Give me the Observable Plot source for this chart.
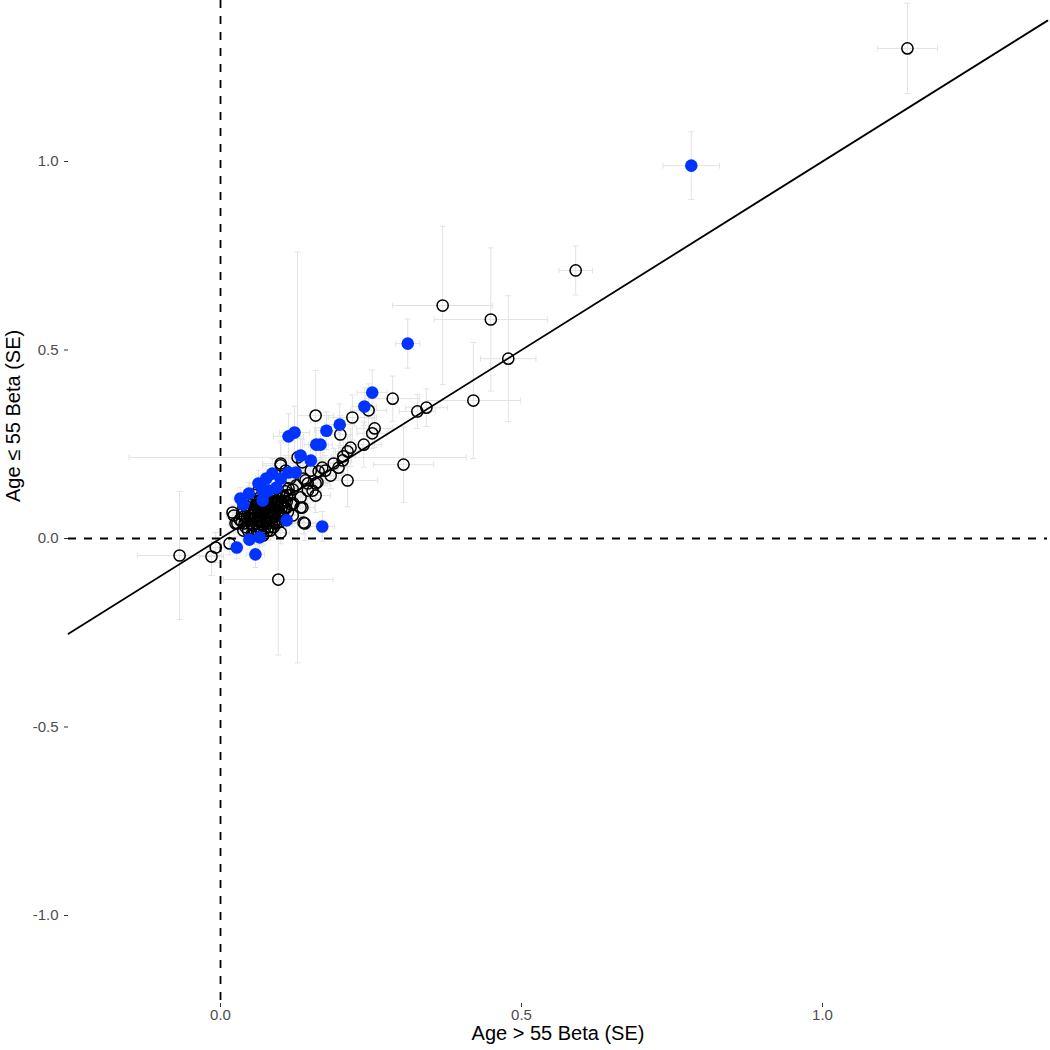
<!DOCTYPE html>
<html>
<head>
<meta charset="utf-8">
<script src="https://cdn.jsdelivr.net/npm/d3@7"></script>
<script src="https://cdn.jsdelivr.net/npm/@observablehq/plot@0.6"></script>
<style>
  html, body { margin: 0; padding: 0; background: #ffffff; }
  #chart { width: 1050px; height: 1050px; }
  #chart svg [aria-label$="tick label"] { font-size: 15px; }
</style>
</head>
<body>
<div id="chart"></div>
<script>
// ---- axis settings ----
const xDomain = [-0.2525, 1.3737];
const yDomain = [-1.2334, 1.4271];
const xTicks = [0.0, 0.5, 1.0];
const yTicks = [-1.0, -0.5, 0.0, 0.5, 1.0];
const xTitle = "Age > 55 Beta (SE)";
const yTitle = "Age \u2264 55 Beta (SE)";

// ---- non-significant (open circles): beta (>55), beta (<=55), SE x, SE y ----
const openX = [1.141, 0.590, 0.369, 0.449, 0.478, 0.420, 0.342, 0.327, 0.286, 0.304,
  0.246, 0.219, 0.158, 0.256, 0.252, 0.238, 0.216, 0.211, 0.204, 0.199,
  0.203, 0.188, 0.196, 0.211, 0.169, 0.163, 0.158, 0.145, 0.158, 0.136,
  0.128, 0.100, 0.138, 0.161, 0.136, 0.140, 0.096, -0.068, -0.015, -0.008,
  0.015, 0.025, 0.022, 0.020, 0.028, 0.038, 0.071, 0.083, 0.100, 0.138,
  0.133, 0.121, 0.113, 0.133, 0.145, 0.141, 0.100, 0.150, 0.153, 0.174,
  0.183, 0.108, 0.116, 0.126, 0.105, 0.120];
const openY = [1.300, 0.711, 0.618, 0.581, 0.477, 0.366, 0.347, 0.337, 0.371, 0.196,
  0.340, 0.321, 0.326, 0.292, 0.279, 0.249, 0.241, 0.231, 0.218, 0.276,
  0.207, 0.199, 0.188, 0.154, 0.188, 0.178, 0.146, 0.146, 0.114, 0.202,
  0.215, 0.194, 0.159, 0.149, 0.082, 0.040, -0.109, -0.045, -0.048, -0.024,
  -0.013, 0.040, 0.061, 0.069, 0.040, 0.021, 0.008, 0.021, 0.016, 0.042,
  0.082, 0.093, 0.133, 0.109, 0.127, 0.154, 0.199, 0.180, 0.127, 0.180,
  0.167, 0.180, 0.159, 0.141, 0.114, 0.061];
const openXse = [0.050, 0.028, 0.083, 0.094, 0.046, 0.078, 0.035, 0.030, 0.045, 0.050,
  0.030, 0.040, 0.030, 0.030, 0.025, 0.030, 0.020, 0.020, 0.020, 0.020,
  0.015, 0.020, 0.015, 0.050, 0.020, 0.015, 0.020, 0.020, 0.025, 0.030,
  0.280, 0.030, 0.020, 0.020, 0.020, 0.025, 0.091, 0.070, 0.020, 0.015,
  0.015, 0.012, 0.012, 0.010, 0.010, 0.010, 0.012, 0.012, 0.015, 0.020,
  0.015, 0.015, 0.015, 0.015, 0.020, 0.020, 0.030, 0.020, 0.015, 0.020,
  0.020, 0.020, 0.020, 0.015, 0.015, 0.015];
const openYse = [0.120, 0.065, 0.210, 0.190, 0.167, 0.154, 0.050, 0.045, 0.060, 0.100,
  0.070, 0.060, 0.120, 0.050, 0.040, 0.060, 0.050, 0.040, 0.045, 0.050,
  0.035, 0.040, 0.030, 0.070, 0.040, 0.030, 0.040, 0.040, 0.045, 0.060,
  0.545, 0.060, 0.040, 0.035, 0.040, 0.045, 0.200, 0.170, 0.050, 0.040,
  0.030, 0.025, 0.025, 0.020, 0.020, 0.020, 0.025, 0.025, 0.030, 0.030,
  0.030, 0.030, 0.035, 0.030, 0.035, 0.040, 0.060, 0.040, 0.030, 0.040,
  0.035, 0.040, 0.040, 0.035, 0.030, 0.030];

// dense cluster of non-significant estimates
const blobX = [0.035, 0.040, 0.042, 0.045, 0.048, 0.050, 0.052, 0.053, 0.055, 0.056,
  0.058, 0.060, 0.060, 0.062, 0.063, 0.064, 0.065, 0.066, 0.067, 0.068,
  0.069, 0.070, 0.071, 0.072, 0.073, 0.074, 0.075, 0.076, 0.077, 0.078,
  0.079, 0.080, 0.081, 0.082, 0.083, 0.084, 0.085, 0.086, 0.088, 0.089,
  0.090, 0.091, 0.092, 0.094, 0.095, 0.096, 0.098, 0.100, 0.102, 0.104,
  0.106, 0.108, 0.110, 0.112, 0.115, 0.118, 0.120, 0.050, 0.045, 0.038,
  0.057, 0.062, 0.070, 0.078, 0.088, 0.032, 0.047, 0.055, 0.093, 0.067,
  0.040, 0.043, 0.046, 0.049, 0.051, 0.054, 0.056, 0.059, 0.061, 0.063,
  0.066, 0.068, 0.070, 0.072, 0.074, 0.075, 0.077, 0.079, 0.080, 0.082,
  0.084, 0.085, 0.087, 0.089, 0.091, 0.093, 0.095, 0.097, 0.099, 0.101,
  0.103, 0.105, 0.107, 0.109, 0.111, 0.060, 0.052, 0.044, 0.036, 0.058];
const blobY = [0.045, 0.060, 0.030, 0.075, 0.050, 0.040, 0.090, 0.065, 0.025, 0.080,
  0.055, 0.100, 0.040, 0.070, 0.085, 0.030, 0.060, 0.110, 0.045, 0.075,
  0.095, 0.055, 0.035, 0.085, 0.065, 0.105, 0.048, 0.078, 0.060, 0.090,
  0.040, 0.070, 0.115, 0.055, 0.085, 0.100, 0.065, 0.045, 0.080, 0.095,
  0.060, 0.120, 0.075, 0.088, 0.050, 0.105, 0.070, 0.092, 0.060, 0.110,
  0.080, 0.125, 0.098, 0.070, 0.115, 0.090, 0.130, 0.070, 0.095, 0.080,
  0.115, 0.125, 0.130, 0.020, 0.030, 0.050, 0.105, 0.035, 0.040, 0.015,
  0.040, 0.085, 0.020, 0.060, 0.100, 0.048, 0.068, 0.088, 0.020, 0.050,
  0.092, 0.038, 0.068, 0.112, 0.028, 0.088, 0.045, 0.100, 0.030, 0.075,
  0.055, 0.118, 0.068, 0.042, 0.085, 0.100, 0.065, 0.080, 0.045, 0.075,
  0.095, 0.055, 0.100, 0.080, 0.115, 0.010, 0.012, 0.055, 0.065, 0.075];
const blobXse = [0.012, 0.010, 0.014, 0.011, 0.013, 0.010, 0.015, 0.012, 0.011, 0.014,
  0.010, 0.016, 0.012, 0.011, 0.013, 0.010, 0.012, 0.018, 0.011, 0.013,
  0.015, 0.010, 0.012, 0.014, 0.011, 0.017, 0.010, 0.013, 0.012, 0.015,
  0.011, 0.012, 0.020, 0.010, 0.014, 0.016, 0.012, 0.011, 0.013, 0.015,
  0.012, 0.022, 0.013, 0.014, 0.011, 0.018, 0.012, 0.016, 0.012, 0.019,
  0.014, 0.022, 0.016, 0.013, 0.020, 0.015, 0.024, 0.012, 0.014, 0.012,
  0.016, 0.018, 0.020, 0.012, 0.013, 0.011, 0.015, 0.011, 0.012, 0.011,
  0.011, 0.013, 0.012, 0.010, 0.015, 0.011, 0.012, 0.014, 0.012, 0.011,
  0.014, 0.011, 0.012, 0.018, 0.012, 0.014, 0.011, 0.016, 0.012, 0.013,
  0.011, 0.019, 0.012, 0.012, 0.014, 0.016, 0.012, 0.013, 0.012, 0.013,
  0.015, 0.012, 0.016, 0.014, 0.018, 0.012, 0.012, 0.011, 0.012, 0.012];
const blobYse = [0.025, 0.022, 0.030, 0.024, 0.026, 0.022, 0.032, 0.025, 0.024, 0.028,
  0.022, 0.035, 0.026, 0.023, 0.028, 0.022, 0.025, 0.040, 0.024, 0.027,
  0.033, 0.022, 0.026, 0.030, 0.024, 0.036, 0.022, 0.028, 0.025, 0.032,
  0.024, 0.026, 0.042, 0.022, 0.030, 0.035, 0.025, 0.024, 0.028, 0.033,
  0.025, 0.045, 0.027, 0.030, 0.024, 0.038, 0.026, 0.034, 0.025, 0.040,
  0.028, 0.046, 0.035, 0.027, 0.042, 0.032, 0.050, 0.025, 0.030, 0.026,
  0.036, 0.040, 0.044, 0.026, 0.028, 0.024, 0.034, 0.024, 0.026, 0.024,
  0.024, 0.028, 0.026, 0.022, 0.034, 0.023, 0.025, 0.030, 0.026, 0.023,
  0.031, 0.024, 0.025, 0.038, 0.026, 0.030, 0.023, 0.034, 0.025, 0.027,
  0.024, 0.040, 0.026, 0.025, 0.030, 0.034, 0.025, 0.028, 0.024, 0.027,
  0.032, 0.025, 0.034, 0.030, 0.038, 0.026, 0.026, 0.023, 0.025, 0.025];

// ---- significant difference (filled blue) ----
const sigX = [0.782, 0.311, 0.252, 0.239, 0.198, 0.176, 0.166, 0.159, 0.123, 0.113,
  0.133, 0.150, 0.169, 0.110, 0.027, 0.058, 0.048, 0.065, 0.033, 0.038,
  0.047, 0.063, 0.070, 0.080, 0.086, 0.100, 0.093, 0.113, 0.125, 0.070, 0.076];
const sigY = [0.989, 0.517, 0.387, 0.350, 0.302, 0.286, 0.249, 0.249, 0.281, 0.271,
  0.220, 0.207, 0.032, 0.048, -0.024, -0.042, -0.003, 0.003, 0.106, 0.090,
  0.119, 0.146, 0.127, 0.127, 0.172, 0.159, 0.135, 0.175, 0.175, 0.101, 0.159];
const sigXse = [0.047, 0.020, 0.025, 0.020, 0.025, 0.020, 0.020, 0.020, 0.025, 0.025,
  0.020, 0.020, 0.020, 0.015, 0.012, 0.015, 0.012, 0.012, 0.012, 0.012,
  0.012, 0.015, 0.012, 0.012, 0.015, 0.015, 0.015, 0.015, 0.015, 0.012, 0.015];
const sigYse = [0.090, 0.065, 0.060, 0.050, 0.055, 0.050, 0.045, 0.045, 0.070, 0.060,
  0.045, 0.040, 0.040, 0.035, 0.030, 0.035, 0.025, 0.025, 0.030, 0.025,
  0.030, 0.035, 0.030, 0.030, 0.040, 0.035, 0.030, 0.040, 0.040, 0.025, 0.035];

// ---- build tables ----
function rows(xs, ys, xse, yse) {
  return xs.map((x, i) => ({x, y: ys[i], xse: xse[i], yse: yse[i]}));
}
const openRows = rows(openX, openY, openXse, openYse).concat(rows(blobX, blobY, blobXse, blobYse));
const sigRows = rows(sigX, sigY, sigXse, sigYse);
const allRows = openRows.concat(sigRows);
const diag = xDomain.map(v => ({x: v, y: v}));

// custom cap symbols for error-bar ends
const hCap = {draw(ctx, size) { const r = Math.sqrt(size / Math.PI); ctx.moveTo(-r, 0); ctx.lineTo(r, 0); }};
const vCap = {draw(ctx, size) { const r = Math.sqrt(size / Math.PI); ctx.moveTo(0, -r); ctx.lineTo(0, r); }};

const errColor = "#e3e3e3";
const font = "'Liberation Sans', Arial, Helvetica, sans-serif";

const chart = Plot.plot({
  width: 1050,
  height: 1050,
  marginLeft: 68,
  marginRight: 3,
  marginTop: 0,
  marginBottom: 47,
  style: {fontFamily: font, fontSize: "15px", background: "#ffffff"},
  x: {domain: xDomain, ticks: xTicks},
  y: {domain: yDomain, ticks: yTicks},
  marks: [
    // error bars
    Plot.link(allRows, {x1: d => d.x - d.xse, x2: d => d.x + d.xse, y1: "y", y2: "y", stroke: errColor, strokeWidth: 1}),
    Plot.link(allRows, {x1: "x", x2: "x", y1: d => d.y - d.yse, y2: d => d.y + d.yse, stroke: errColor, strokeWidth: 1}),
    Plot.dot(allRows, {x: d => d.x - d.xse, y: "y", symbol: vCap, r: 3, stroke: errColor, strokeWidth: 1, fill: "none"}),
    Plot.dot(allRows, {x: d => d.x + d.xse, y: "y", symbol: vCap, r: 3, stroke: errColor, strokeWidth: 1, fill: "none"}),
    Plot.dot(allRows, {x: "x", y: d => d.y - d.yse, symbol: hCap, r: 3, stroke: errColor, strokeWidth: 1, fill: "none"}),
    Plot.dot(allRows, {x: "x", y: d => d.y + d.yse, symbol: hCap, r: 3, stroke: errColor, strokeWidth: 1, fill: "none"}),
    // reference lines
    Plot.ruleX([0], {stroke: "black", strokeWidth: 1.8, strokeDasharray: "8,8"}),
    Plot.ruleY([0], {stroke: "black", strokeWidth: 1.8, strokeDasharray: "8,8"}),
    Plot.line(diag, {x: "x", y: "y", stroke: "black", strokeWidth: 1.8}),
    // points
    Plot.dot(openRows, {x: "x", y: "y", r: 5.6, stroke: "black", strokeWidth: 1.5, fill: "none"}),
    Plot.dot(sigRows, {x: "x", y: "y", r: 6.3, fill: "#0033ff", stroke: "none"}),
    // axes
    Plot.axisX({ticks: xTicks, tickFormat: d => d.toFixed(1), tickSize: 4, tickPadding: 2, fontSize: 15, color: "#4d4d4d", stroke: "#333333", label: null}),
    Plot.axisY({ticks: yTicks, tickFormat: d => d.toFixed(1), tickSize: 4, tickPadding: 6, fontSize: 15, color: "#4d4d4d", stroke: "#333333", label: null}),
    // axis titles
    Plot.text([xTitle], {frameAnchor: "bottom", dy: 36, text: d => d, fontSize: 20, fill: "black"}),
    Plot.text([yTitle], {frameAnchor: "left", dx: -55, rotate: -90, text: d => d, fontSize: 20, fill: "black"})
  ]
});
document.getElementById("chart").appendChild(chart);
</script>
</body>
</html>
